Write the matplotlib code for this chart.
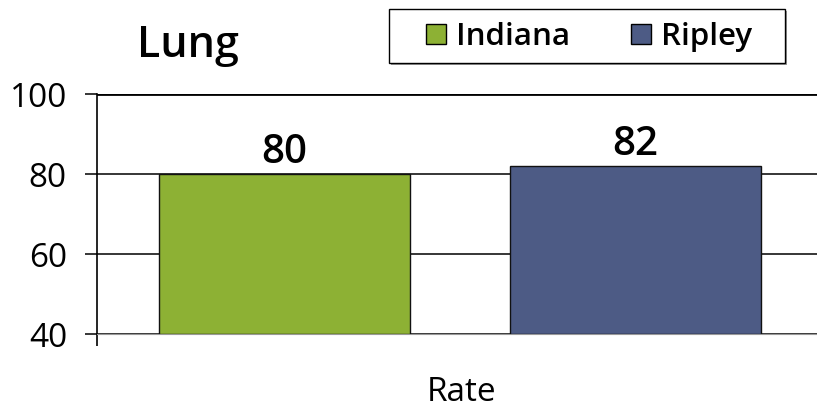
import matplotlib.pyplot as plt
from matplotlib.patches import Patch, Rectangle

plt.rcParams['font.family'] = ['Open Sans', 'DejaVu Sans']

series = ["Indiana", "Ripley"]
values = [80, 82]
colors = ["#8db134", "#4d5b85"]
category = "Rate"
yticks = [40, 60, 80, 100]

W, H = 817, 411
fig = plt.figure(figsize=(W / 100, H / 100), dpi=100)
ax = fig.add_axes([97/W, 77/H, 726/W, 240/H])

offsets = [-0.242, 0.242]
width = 0.346
for off, v, c in zip(offsets, values, colors):
    ax.bar(off, v - 40, bottom=40, width=width, color=c, edgecolor="#111111", linewidth=1, zorder=3)
    ax.text(off, v + 2.8, str(v), ha="center", va="baseline", fontsize=29, fontweight="semibold", zorder=4)

ax.set_xlim(-0.5, 0.5)
ax.set_ylim(40, 100)
ax.set_yticks(yticks)
for y in yticks:
    ax.axhline(y, color="black", lw=1.1, zorder=1)
ax.axhline(100, color="black", lw=2, zorder=1)

ax.spines["top"].set_visible(False)
ax.spines["right"].set_visible(False)
ax.spines["bottom"].set_color("#999999")
ax.spines["left"].set_linewidth(1.2)

ax.tick_params(axis="y", length=8.6, width=1.1, labelsize=24, pad=13)
ax.set_xticks([-0.5])
ax.set_xticklabels([""])
ax.tick_params(axis="x", length=8.6, width=1.2)

fig.text(462/W, 1 - 401/H, category, ha="center", va="baseline", fontsize=24)
fig.text(188/W, 1 - 57/H, "Lung", ha="center", va="baseline", fontsize=31, fontweight="semibold")

# legend frame with a thin shadow
fig.patches.append(Rectangle((391/W, 1 - 65/H), 396/W, 54/H, transform=fig.transFigure,
                             facecolor="#9a9a9a", edgecolor="none", zorder=1))
fig.patches.append(Rectangle((389/W, 1 - 63/H), 396/W, 54/H, transform=fig.transFigure,
                             facecolor="white", edgecolor="black", linewidth=1, zorder=2))

handles = [Patch(facecolor=c, edgecolor="black", label=s) for s, c in zip(series, colors)]
leg = fig.legend(handles=handles, loc="center", bbox_to_anchor=(589/W, 1 - 37/H), ncol=2,
                 frameon=False, prop={"weight": "semibold", "size": 22.5},
                 handlelength=0.65, handleheight=0.65, handletextpad=0.32,
                 columnspacing=1.95, borderpad=0.2)
leg.set_zorder(5)

fig.savefig("out.png", dpi=100)
